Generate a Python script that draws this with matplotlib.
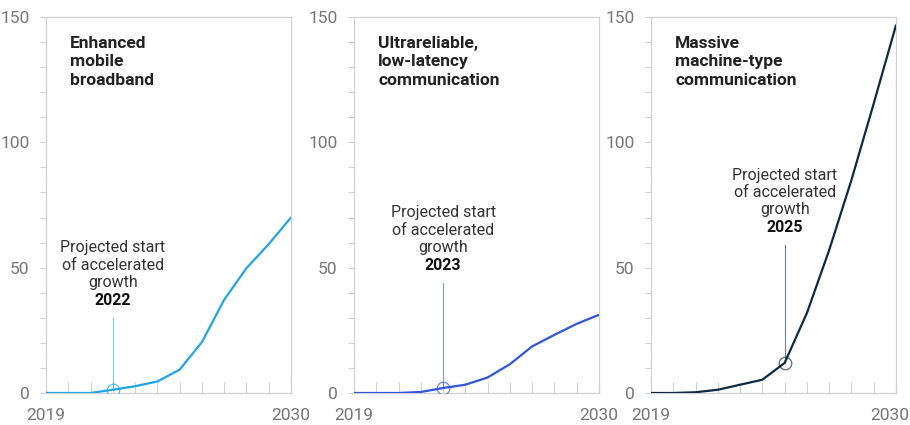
import matplotlib
matplotlib.use('Agg')
import matplotlib.pyplot as plt
import matplotlib.transforms as mtransforms
from matplotlib.ticker import MultipleLocator

plt.rcParams['font.family'] = ['Roboto', 'DejaVu Sans']

# data
years = list(range(2019, 2031))
embb = [0, 0, 0, 1.3, 2.7, 4.6, 9.3, 20.3, 37.2, 49.8, 59.4, 70]
urllc = [0, 0, 0, 0.4, 2.0, 3.3, 6.2, 11.5, 18.6, 23.2, 27.6, 31.2]
mmtc = [0, 0, 0.3, 1.3, 3.3, 5.3, 12.0, 31.9, 57.0, 85.0, 115.5, 146.7]

titles = ["Enhanced\nmobile\nbroadband",
          "Ultrareliable,\nlow-latency\ncommunication",
          "Massive\nmachine-type\ncommunication"]
start_years = [2022, 2023, 2025]
callout_tops = [30, 44, 59]
series = [embb, urllc, mmtc]
colors = ['#1DA7EA', '#2F55E4', '#0B2B45']
lefts = [46, 354, 651]

W, H = 910, 425
fig = plt.figure(figsize=(W / 100, H / 100), dpi=100)

grid_col = '#d2d2d2'
label_col = '#777777'

for i in range(3):
    ax = fig.add_axes([lefts[i] / W, 32 / H, 245 / W, 376 / H])
    vals = series[i]
    col = colors[i]

    ax.plot(years, vals, color=col, lw=1.6, zorder=3, solid_capstyle='round')

    # callout
    sy = start_years[i]
    sv = vals[years.index(sy)]
    ax.plot([sy, sy], [sv, callout_tops[i]], color=col, lw=0.8, alpha=0.6, zorder=2)
    ax.plot([sy], [sv], marker='o', ms=9, mfc='none', mec=col, mew=0.9, alpha=0.7, zorder=4)
    ax.annotate(str(sy), xy=(sy, callout_tops[i]), xytext=(0, 7), textcoords='offset points',
                ha='center', va='bottom', fontsize=11.5, fontweight='bold', color='#111111')
    ax.annotate("Projected start\nof accelerated\ngrowth", xy=(sy, callout_tops[i]),
                xytext=(0, 20), textcoords='offset points', ha='center', va='bottom',
                fontsize=11.5, color='#333333', linespacing=1.2)

    ax.text(0.098, 0.95, titles[i], transform=ax.transAxes, ha='left', va='top',
            fontsize=12.5, fontweight='bold', color='#222222', linespacing=1.3)

    ax.set_xlim(2019, 2030)
    ax.set_ylim(0, 150)
    ax.set_yticks([0, 50, 100, 150])
    ax.yaxis.set_minor_locator(MultipleLocator(10))
    ax.set_xticks(years)
    ax.set_xticklabels(['2019'] + [''] * 10 + ['2030'])

    ax.tick_params(axis='y', which='both', direction='out', length=4, width=0.8,
                   color=grid_col, labelcolor=label_col, labelsize=12.5, pad=8)
    ax.tick_params(axis='x', direction='in', length=8, width=0.8, color=grid_col,
                   labelcolor=label_col, labelsize=12.5, pad=11)
    for s in ax.spines.values():
        s.set_color(grid_col)
        s.set_linewidth(0.9)

    if i == 2:
        # keep the last year label inside the picture
        lab = ax.get_xticklabels()[-1]
        lab.set_transform(lab.get_transform() +
                          mtransforms.ScaledTranslation(-6 / 100, 0, fig.dpi_scale_trans))

fig.savefig('out.png', dpi=100)
